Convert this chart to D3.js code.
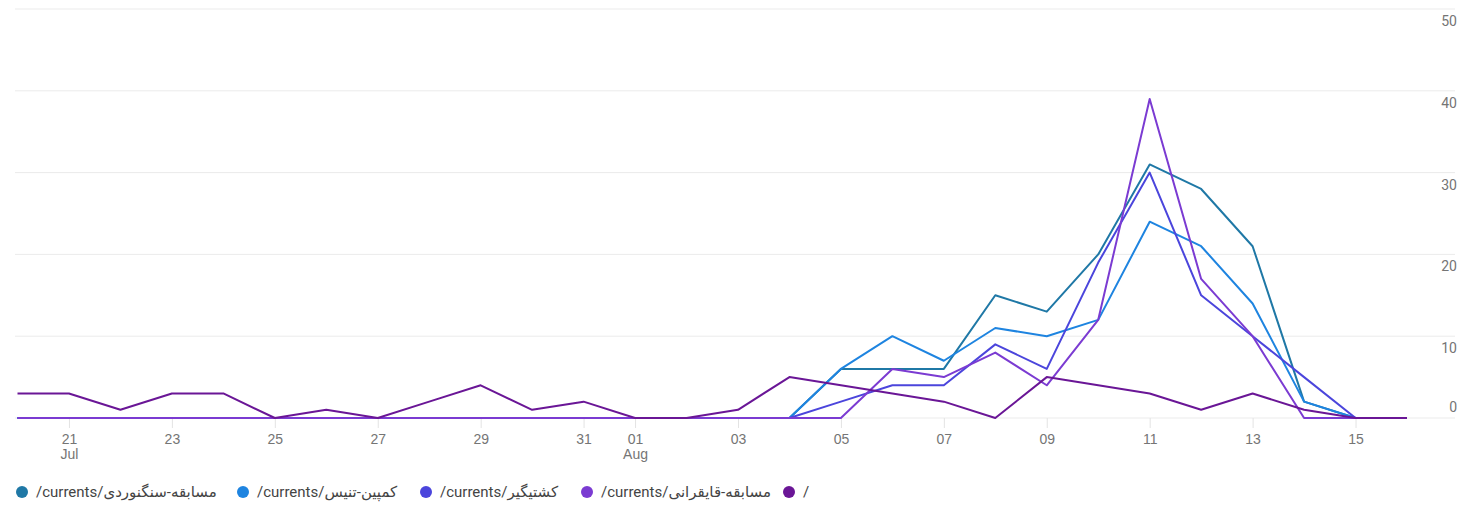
<!DOCTYPE html>
<html>
<head>
<meta charset="utf-8">
<script src="https://cdn.jsdelivr.net/npm/d3@7"></script>
<style>
  body { margin: 0; background: #fff; }
  svg { display: block; font-family: Roboto, "DejaVu Sans", sans-serif; }
  .tick text { fill: #757575; font-size: 14px; }
</style>
</head>
<body>
<div id="chart"></div>
<script>
const days = [
  "2023-07-20", "2023-07-21", "2023-07-22", "2023-07-23", "2023-07-24", "2023-07-25", "2023-07-26",
  "2023-07-27", "2023-07-28", "2023-07-29", "2023-07-30", "2023-07-31", "2023-08-01", "2023-08-02",
  "2023-08-03", "2023-08-04", "2023-08-05", "2023-08-06", "2023-08-07", "2023-08-08", "2023-08-09",
  "2023-08-10", "2023-08-11", "2023-08-12", "2023-08-13", "2023-08-14", "2023-08-15", "2023-08-16",
];

const pages = [
  "/currents/مسابقه-سنگنوردی",
  "/currents/کمپین-تنیس",
  "/currents/کشتیگیر",
  "/currents/مسابقه-قایقرانی",
  "/",
];

const colors = ["#1f78a6", "#1e84e0", "#4b45dc", "#7b3bd2", "#6a1696"];

const climbing = [0, 0, 0, 0, 0, 0, 0, 0, 0, 0, 0, 0, 0, 0, 0, 0, 6, 6, 6, 15, 13, 20, 31, 28, 21, 2, 0, 0];
const tennis   = [0, 0, 0, 0, 0, 0, 0, 0, 0, 0, 0, 0, 0, 0, 0, 0, 6, 10, 7, 11, 10, 12, 24, 21, 14, 2, 0, 0];
const wrestler = [0, 0, 0, 0, 0, 0, 0, 0, 0, 0, 0, 0, 0, 0, 0, 0, 2, 4, 4, 9, 6, 19, 30, 15, 10, 5, 0, 0];
const rowing   = [0, 0, 0, 0, 0, 0, 0, 0, 0, 0, 0, 0, 0, 0, 0, 0, 0, 6, 5, 8, 4, 12, 39, 17, 10, 0, 0, 0];
const home     = [3, 3, 1, 3, 3, 0, 1, 0, 2, 4, 1, 2, 0, 0, 1, 5, 4, 3, 2, 0, 5, 4, 3, 1, 3, 1, 0, 0];

const seriesValues = [climbing, tennis, wrestler, rowing, home];
const yTicks = [0, 10, 20, 30, 40, 50];

const W = 1463, H = 505;
const parse = d3.timeParse("%Y-%m-%d");
const dates = days.map(parse);

const svg = d3.select("#chart").append("svg").attr("width", W).attr("height", H);

const x = d3.scaleTime().domain(d3.extent(dates)).range([17.5, 1407]);
const y = d3.scaleLinear().domain([0, 50]).range([418, 9]);

// gridlines + right labels
svg.append("g")
  .selectAll("line")
  .data(yTicks)
  .join("line")
  .attr("x1", 15).attr("x2", 1455)
  .attr("y1", (d) => y(d)).attr("y2", (d) => y(d))
  .attr("stroke", "#ebebeb")
  .attr("stroke-width", 1);

svg.append("g")
  .selectAll("text")
  .data(yTicks)
  .join("text")
  .attr("x", 1457)
  .attr("y", (d) => (d === 0 ? y(d) - 11 : y(d) + 12))
  .attr("dy", "0.35em")
  .attr("text-anchor", "end")
  .attr("fill", "#757575")
  .style("font-size", "14px")
  .text((d) => d);

// x axis
const tickDates = dates.filter((d) => d.getDate() % 2 === 1);
const xAxis = svg.append("g")
  .attr("transform", "translate(0,418)")
  .call(d3.axisBottom(x).tickValues(tickDates).tickFormat(d3.timeFormat("%d")).tickSize(10).tickPadding(6));
xAxis.select(".domain").remove();
xAxis.selectAll(".tick line").attr("stroke", "#e3e3e3");
xAxis.selectAll(".tick text")
  .filter((d) => d.getDate() === 21 || d.getDate() === 1)
  .append("tspan")
  .attr("x", 0)
  .attr("dy", "1.1em")
  .text((d) => d3.timeFormat("%b")(d));

// lines (home last so it sits on top along the baseline)
const line = d3.line()
  .x((d, i) => x(dates[i]))
  .y((d) => y(d));

svg.append("g")
  .selectAll("path")
  .data(seriesValues)
  .join("path")
  .attr("d", (d) => line(d))
  .attr("fill", "none")
  .attr("stroke", (d, i) => colors[i])
  .attr("stroke-width", 2)
  .attr("stroke-linejoin", "round");

// legend
const legendX = [22, 243, 426, 587, 789];
const legend = svg.append("g").attr("transform", "translate(0,492)");
pages.forEach((p, i) => {
  legend.append("circle").attr("cx", legendX[i]).attr("cy", 0).attr("r", 6).attr("fill", colors[i]);
  legend.append("text")
    .attr("x", legendX[i] + 14)
    .attr("dy", "0.35em")
    .attr("fill", "#444")
    .style("font-size", "15px")
    .text(p);
});
</script>
</body>
</html>
